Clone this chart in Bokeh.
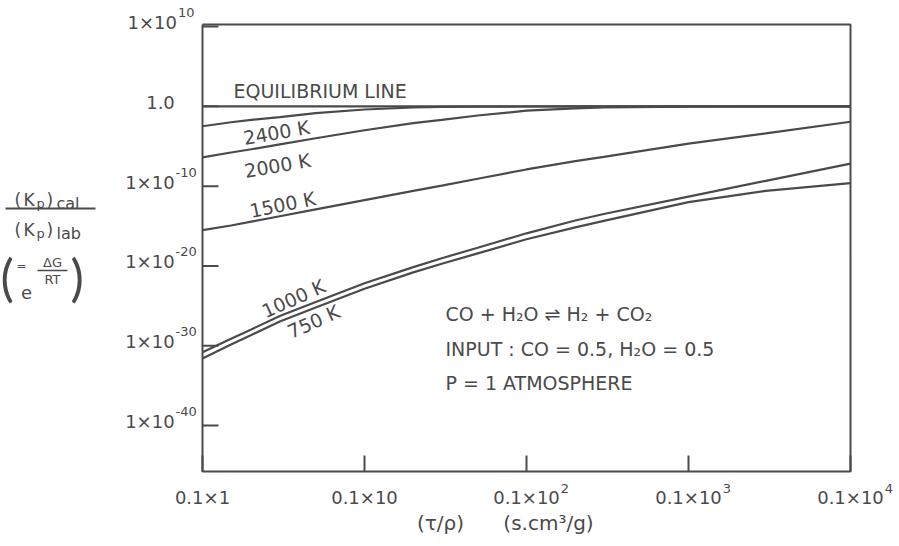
import numpy as np
from bokeh.plotting import figure
from bokeh.models import Range1d
from bokeh.core.properties import value
from bokeh.embed import file_html
from bokeh.resources import INLINE

# ---------------- data ----------------
tau_rho = [0.1, 0.15, 0.2, 0.3, 0.5, 1, 2, 3, 5, 10, 20, 30, 100, 300, 1000]  # s.cm3/g
# log10 of (Kp)cal/(Kp)lab for each curve
exp_equilibrium = [0.0] * 15
exp_2400 = [-2.5, -2.0, -1.7, -1.35, -0.85, -0.4, -0.15, -0.08, -0.04, -0.02,
            -0.012, -0.01, -0.006, -0.003, 0.0]
exp_2000 = [-6.4, -5.79, -5.38, -4.77, -4.0, -3.0, -2.1, -1.7, -1.15, -0.55,
            -0.25, -0.13, -0.05, -0.02, -0.01]
exp_1500 = [-15.5, -14.93, -14.45, -13.77, -12.91, -11.76, -10.6, -9.93, -9.07,
            -7.91, -6.86, -6.34, -4.67, -3.4, -1.93]
exp_1000 = [-30.8, -29.13, -27.95, -26.27, -24.51, -22.16, -20.15, -19.03, -17.72,
            -15.91, -14.31, -13.49, -11.32, -9.34, -7.18]
exp_750 = [-31.6, -29.83, -28.65, -26.97, -25.21, -22.86, -20.8, -19.73, -18.42,
           -16.66, -15.16, -14.35, -12.0, -10.6, -9.63]

x_tick_values = [0.1, 1, 10, 100, 1000]
x_tick_mantissas = ["0.1×1", "0.1×10", "0.1×10", "0.1×10", "0.1×10"]
x_tick_exponents = ["", "", "2", "3", "4"]
y_tick_values = [1e10, 1.0, 1e-10, 1e-20, 1e-30, 1e-40]
y_tick_mantissas = ["1×10", "1.0", "1×10", "1×10", "1×10", "1×10"]
y_tick_exponents = ["10", "", "-10", "-20", "-30", "-40"]

# ---------------- layout ----------------
W, H = 899, 546
FL, FR, FT, FB = 202, 850, 24, 471          # plot box edges in pixels
XMIN, XMAX = 0.1, 1000.0                     # plot box data limits
YMIN, YMAX = 10 ** -45.75, 10 ** 10.25
INK = "#4a4a4a"
FONT = "DejaVu Sans"
LX0, LX1 = np.log10(XMIN), np.log10(XMAX)
LY0, LY1 = np.log10(YMIN), np.log10(YMAX)
XDEC = (FR - FL) / (LX1 - LX0)               # pixels per decade
YDEC = (FB - FT) / (LY1 - LY0)
ADV = {c: 0.636 for c in "0123456789"}       # DejaVu Sans advance widths (em)
ADV.update({".": 0.318, "×": 0.838, "-": 0.361})


def text_width(s, size):
    return sum(ADV.get(c, 0.6) for c in s) * size


def px2x(px):
    return float(10 ** (LX0 + (px - FL) / XDEC))


def py2y(py):
    return float(10 ** (LY1 - (py - FT) / YDEC))


# the canvas is the frame; the log scales are extended so the plot box sits
# at the same place as in the reference and the margins can hold the texts
p = figure(width=W, height=H, x_axis_type="log", y_axis_type="log",
           x_range=Range1d(px2x(0), px2x(W)), y_range=Range1d(py2y(H), py2y(0)),
           x_axis_location=None, y_axis_location=None,
           output_backend="svg", toolbar_location=None,
           min_border=0)
p.background_fill_color = "white"
p.border_fill_color = "white"
p.outline_line_color = None
p.xgrid.visible = False
p.ygrid.visible = False


def txt(xs, ys, texts, size=18, align="left", baseline="middle", angle=0.0,
        font=FONT):
    p.text(x=list(xs), y=list(ys), text=list(texts), angle=float(angle),
           text_font=value(font), text_font_size=value(f"{size}px"),
           text_align=value(align), text_baseline=value(baseline),
           text_color=INK)


def add_text(text, px, py, **kw):
    txt([px2x(px)], [py2y(py)], [text], **kw)


# plot box
p.line([XMIN, XMAX, XMAX, XMIN, XMIN], [YMAX, YMAX, YMIN, YMIN, YMAX],
       line_color=INK, line_width=2)

# inward ticks (16 px)
tick_x = 10 ** (16 / XDEC)
tick_y = 10 ** (16 / YDEC)
p.segment(x0=x_tick_values, y0=[YMIN] * len(x_tick_values),
          x1=x_tick_values, y1=[YMIN * tick_y] * len(x_tick_values),
          line_color=INK, line_width=2)
p.segment(x0=[XMIN] * len(y_tick_values), y0=y_tick_values,
          x1=[XMIN * tick_x] * len(y_tick_values), y1=y_tick_values,
          line_color=INK, line_width=2)

# x tick labels: mantissa centred on the tick, exponent raised after it
base_y = YMIN / 10 ** (26 / YDEC)
sup_y = YMIN / 10 ** (17 / YDEC)
txt(x_tick_values, [base_y] * len(x_tick_values), x_tick_mantissas,
    align="center")
for v, m, e in zip(x_tick_values, x_tick_mantissas, x_tick_exponents):
    if e:
        txt([v * 10 ** ((text_width(m, 18) / 2 + 1) / XDEC)], [sup_y], [e],
            size=13)

# y tick labels: centred about x = 160 px, a little above each tick
for v, m, e in zip(y_tick_values, y_tick_mantissas, y_tick_exponents):
    yb = v * 10 ** (4 / YDEC)
    if e:
        wb, we = text_width(m, 18), text_width(e, 13)
        right = 160 + (wb + we) / 2 - we
        txt([px2x(right)], [yb], [m], align="right")
        txt([px2x(right + 1)], [v * 10 ** (14 / YDEC)], [e], size=13)
    else:
        txt([px2x(160)], [yb], [m], align="center")

# ---------------- curves ----------------
curves = [exp_equilibrium, exp_2400, exp_2000, exp_1500, exp_1000, exp_750]
for e in curves:
    p.line(tau_rho, [float(10.0 ** v) for v in e], line_color=INK,
           line_width=2.2)

# curve labels
add_text("EQUILIBRIUM LINE", 233, 90, size=19)
add_text("2400 K", 276, 132, size=19, align="center", angle=0.17)
add_text("2000 K", 277, 165, size=19, align="center", angle=0.17)
add_text("1500 K", 282, 204, size=19, align="center", angle=0.2)
add_text("1000 K", 293, 298, size=19, align="center", angle=0.42)
add_text("750 K", 313, 321, size=19, align="center", angle=0.42)

# reaction information
add_text("CO + H₂O ⇌ H₂ + CO₂", 445, 313, size=19)
add_text("INPUT : CO = 0.5, H₂O = 0.5", 445, 348, size=19)
add_text("P = 1 ATMOSPHERE", 445, 382, size=19)

# x axis title
add_text("(τ/ρ)", 440, 522, size=20, align="center")
add_text("(s.cm³/g)", 548, 522, size=20, align="center")

# y axis title: (Kp)cal / (Kp)lab  (= e^(ΔG/RT))
for row, sub in ((199, "cal"), (229, "lab")):
    add_text("(", 14, row, size=17, baseline="alphabetic")
    add_text("K", 23, row, size=17, baseline="alphabetic")
    add_text("p", 36, row + 4, size=13, baseline="alphabetic")
    add_text(")", 46, row, size=17, baseline="alphabetic")
    add_text(sub, 56, row + 4, size=16, baseline="alphabetic")
p.line([px2x(5), px2x(95)], [py2y(208), py2y(208)], line_color=INK,
       line_width=2)

add_text("(", 0, 276, size=50, font="Lato")
add_text(")", 70, 276, size=50, font="Lato")
add_text("=", 16, 265, size=12)
add_text("ΔG", 52, 262, size=13, align="center")
p.line([px2x(37), px2x(67)], [py2y(270), py2y(270)], line_color=INK,
       line_width=1.3)
add_text("RT", 52, 279, size=13, align="center")
add_text("e", 26, 292, size=18, align="center")

open("out.html", "w").write(file_html(p, INLINE))
